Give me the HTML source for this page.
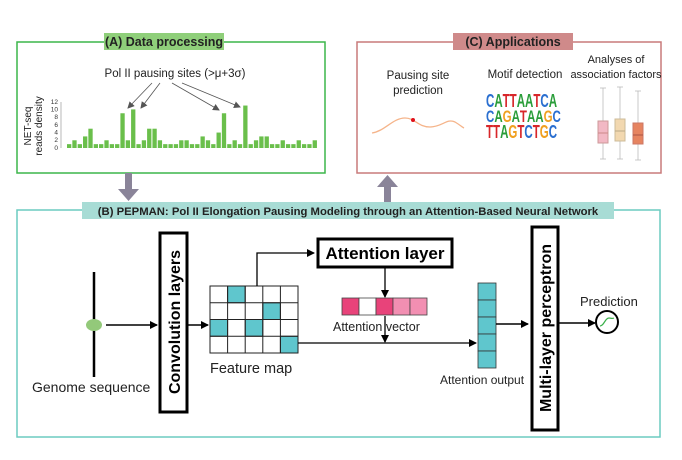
<!DOCTYPE html>
<html><head><meta charset="utf-8"><style>
html,body{margin:0;padding:0;background:#fff;}
svg{display:block;font-family:"Liberation Sans",Arial,sans-serif;}
</style></head><body>
<svg id="s" width="682" height="460" viewBox="0 0 682 460" xmlns="http://www.w3.org/2000/svg">
<defs>
<marker id="ah" markerWidth="8" markerHeight="8" refX="7" refY="4" orient="auto" markerUnits="userSpaceOnUse"><path d="M0,0 L8,4 L0,8 z" fill="#000"/></marker>
<marker id="ag" markerWidth="7" markerHeight="7" refX="6" refY="3.5" orient="auto" markerUnits="userSpaceOnUse"><path d="M0,0 L7,3.5 L0,7 z" fill="#555"/></marker>
</defs>
<!-- Panel A -->
<rect x="17" y="42" width="308" height="131" fill="none" stroke="#3cb54a" stroke-width="1.5"/>
<rect x="104" y="33" width="120" height="17" fill="#8fcf7a"/>
<text x="164" y="46" font-size="12.5" font-weight="bold" text-anchor="middle" fill="#222">(A) Data processing</text>
<text x="175" y="77" font-size="11.5" text-anchor="middle" fill="#222">Pol II pausing sites (&gt;μ+3σ)</text>
<g stroke="#555" stroke-width="0.8" marker-end="url(#ag)">
<line x1="152" y1="83" x2="128" y2="108"/>
<line x1="160" y1="83" x2="141" y2="108"/>
<line x1="172" y1="83" x2="219" y2="110"/>
<line x1="182" y1="83" x2="240" y2="107"/>
</g>
<g font-size="6.5" fill="#333" text-anchor="end">
<text x="58" y="150">0</text><text x="58" y="142">2</text><text x="58" y="134.5">4</text><text x="58" y="127">6</text><text x="58" y="119">8</text><text x="58" y="111.5">10</text><text x="58" y="104">12</text>
</g>
<g stroke="#888" stroke-width="0.6"><line x1="61" y1="148" x2="61" y2="102"/></g>
<text transform="translate(31,126) rotate(-90)" font-size="10" text-anchor="middle" fill="#222">NET-seq</text>
<text transform="translate(42,126) rotate(-90)" font-size="10" text-anchor="middle" fill="#222">reads density</text>
<g id="bars" fill="#6abf4b"></g>
<!-- Panel C -->
<rect x="357" y="42" width="304" height="131" fill="none" stroke="#c97a7a" stroke-width="1.5"/>
<rect x="453" y="33" width="120" height="17" fill="#cf8a8a"/>
<text x="513" y="46" font-size="12.5" font-weight="bold" text-anchor="middle" fill="#222">(C) Applications</text>
<text x="418" y="79" font-size="11.5" text-anchor="middle" fill="#222">Pausing site</text>
<text x="418" y="94" font-size="11.5" text-anchor="middle" fill="#222">prediction</text>
<path d="M372,133 C385,131 393,118 405,118 C415,118 418,127 430,127 C442,127 447,118 455,122 C460,125 462,127 464,128" fill="none" stroke="#f5b48a" stroke-width="1.3"/>
<circle cx="413" cy="120" r="2" fill="#e0101a"/>
<text x="525" y="78" font-size="11.5" text-anchor="middle" fill="#222">Motif detection</text>
<text x="616" y="63" font-size="11" text-anchor="middle" fill="#222">Analyses of</text>
<text x="616" y="78" font-size="11" text-anchor="middle" fill="#222">association factors</text>
<g font-weight="bold" font-size="16" font-family="Liberation Sans,sans-serif">
<text transform="translate(486,107) scale(0.72,1.15)"><tspan fill="#2a6fd0">C</tspan><tspan fill="#2a9d3a">A</tspan><tspan fill="#d8262a">TT</tspan><tspan fill="#2a9d3a">AA</tspan><tspan fill="#d8262a">T</tspan><tspan fill="#2a6fd0">C</tspan><tspan fill="#2a9d3a">A</tspan></text>
<text transform="translate(486,122) scale(0.72,1.05)"><tspan fill="#2a6fd0">C</tspan><tspan fill="#2a9d3a">A</tspan><tspan fill="#f0a020">G</tspan><tspan fill="#2a9d3a">A</tspan><tspan fill="#d8262a">T</tspan><tspan fill="#2a9d3a">AA</tspan><tspan fill="#f0a020">G</tspan><tspan fill="#2a6fd0">C</tspan></text>
<text transform="translate(486,138) scale(0.72,1.15)"><tspan fill="#d8262a">TT</tspan><tspan fill="#2a9d3a">A</tspan><tspan fill="#f0a020">G</tspan><tspan fill="#d8262a">T</tspan><tspan fill="#2a6fd0">C</tspan><tspan fill="#d8262a">T</tspan><tspan fill="#f0a020">G</tspan><tspan fill="#2a6fd0">C</tspan></text>
</g>
<g stroke="#bbb" stroke-width="0.8">
<line x1="603" y1="88" x2="603" y2="159"/><line x1="600" y1="88" x2="606" y2="88"/><line x1="600" y1="159" x2="606" y2="159"/>
<line x1="620" y1="87" x2="620" y2="159"/><line x1="617" y1="87" x2="623" y2="87"/><line x1="617" y1="159" x2="623" y2="159"/>
<line x1="638" y1="91" x2="638" y2="160"/><line x1="635" y1="91" x2="641" y2="91"/><line x1="635" y1="160" x2="641" y2="160"/>
</g>
<rect x="598" y="121" width="10" height="22" fill="#f2b8c4" stroke="#c99"/><line x1="598" y1="133" x2="608" y2="133" stroke="#c88"/>
<rect x="615" y="119" width="10" height="22" fill="#f2d8b0" stroke="#cb9"/><line x1="615" y1="131" x2="625" y2="131" stroke="#ba8"/>
<rect x="633" y="123" width="10" height="21" fill="#e68460" stroke="#c76"/><line x1="633" y1="135" x2="643" y2="135" stroke="#a54"/>
<!-- big arrows -->
<rect x="125" y="173" width="7" height="16" fill="#8a8499"/><path d="M118,189 L139,189 L128.5,201 z" fill="#8a8499"/>
<rect x="384" y="186" width="7" height="19" fill="#8a8499"/><path d="M377,187 L398,187 L387.5,175 z" fill="#8a8499"/>
<!-- Panel B -->
<rect x="17" y="210" width="643" height="227" fill="none" stroke="#6ccbc0" stroke-width="1.5"/>
<rect x="82" y="202" width="532" height="17" fill="#a8dcd5"/>
<text x="348" y="215" font-size="11.3" font-weight="bold" text-anchor="middle" fill="#222">(B) PEPMAN: Pol II Elongation Pausing Modeling through an Attention-Based Neural Network</text>
<line x1="94" y1="272" x2="94" y2="377" stroke="#000" stroke-width="2.5"/>
<ellipse cx="94" cy="325" rx="8" ry="6" fill="#93c97a"/>
<line x1="106" y1="325" x2="157" y2="325" stroke="#000" stroke-width="1.5" marker-end="url(#ah)"/>
<text x="32" y="392" font-size="14" fill="#222">Genome sequence</text>
<rect x="160" y="233" width="27" height="179" fill="#fff" stroke="#000" stroke-width="3"/>
<text transform="translate(180,322) rotate(-90)" font-size="16" font-weight="bold" text-anchor="middle">Convolution layers</text>
<line x1="188" y1="325" x2="208" y2="325" stroke="#000" stroke-width="1.5" marker-end="url(#ah)"/>
<g stroke="#222" stroke-width="1">
<rect x="227.6" y="286" width="17.6" height="16.75" fill="#5fc6cd"/>
<rect x="262.8" y="302.75" width="17.6" height="16.75" fill="#5fc6cd"/>
<rect x="210" y="319.5" width="17.6" height="16.75" fill="#5fc6cd"/>
<rect x="245.2" y="319.5" width="17.6" height="16.75" fill="#5fc6cd"/>
<rect x="280.4" y="336.25" width="17.6" height="16.75" fill="#5fc6cd"/>
<rect x="210" y="286" width="88" height="67" fill="none"/>
<path d="M227.6,286V353M245.2,286V353M262.8,286V353M280.4,286V353M210,302.75H298M210,319.5H298M210,336.25H298" fill="none"/>
</g>
<text x="210" y="373" font-size="14.5" fill="#222">Feature map</text>
<polyline points="257,286 257,253 314,253" fill="none" stroke="#000" stroke-width="1.3" marker-end="url(#ah)"/>
<rect x="318" y="239" width="134" height="28" fill="#fff" stroke="#000" stroke-width="3"/>
<text x="385" y="259" font-size="17" font-weight="bold" text-anchor="middle">Attention layer</text>
<line x1="385" y1="268" x2="385" y2="297" stroke="#000" stroke-width="1.3" marker-end="url(#ah)"/>
<g stroke="#444" stroke-width="0.8">
<rect x="342" y="298" width="17" height="17" fill="#e8437a"/>
<rect x="359" y="298" width="17" height="17" fill="#fff"/>
<rect x="376" y="298" width="17" height="17" fill="#e8437a"/>
<rect x="393" y="298" width="17" height="17" fill="#f28fb2"/>
<rect x="410" y="298" width="17" height="17" fill="#f28fb2"/>
</g>
<text x="333" y="331" font-size="12.5" fill="#222">Attention vector</text>
<line x1="385" y1="316" x2="385" y2="342" stroke="#000" stroke-width="1.3" marker-end="url(#ah)"/>
<line x1="298" y1="343" x2="476" y2="343" stroke="#000" stroke-width="1.3" marker-end="url(#ah)"/>
<g stroke="#333" stroke-width="0.8" fill="#5fc6cd">
<rect x="478" y="283" width="18" height="17"/><rect x="478" y="300" width="18" height="17"/><rect x="478" y="317" width="18" height="17"/><rect x="478" y="334" width="18" height="17"/><rect x="478" y="351" width="18" height="17"/>
</g>
<text x="440" y="384" font-size="12" fill="#222">Attention output</text>
<line x1="496" y1="324" x2="528" y2="324" stroke="#000" stroke-width="1.5" marker-end="url(#ah)"/>
<rect x="532" y="227" width="26" height="203" fill="#fff" stroke="#000" stroke-width="3"/>
<text transform="translate(551,328) rotate(-90)" font-size="16" font-weight="bold" text-anchor="middle">Multi-layer perceptron</text>
<line x1="559" y1="323" x2="595" y2="323" stroke="#000" stroke-width="1.5" marker-end="url(#ah)"/>
<circle cx="607" cy="322" r="11" fill="#fff" stroke="#000" stroke-width="2"/>
<path d="M600,326 C604,326 605,318 609,318 C611,318 612,319 614,318" fill="none" stroke="#3ab04a" stroke-width="1.2"/>
<text x="580" y="306" font-size="13" fill="#222">Prediction</text>
</svg>
<script>
var h=[1,2,1,3,5,1,1,2,1,1,9,2,10,1,2,5,5,2,1,1,1,2,2,1,1,3,2,1,4,9,1,2,1,11,1,2,3,3,1,1,2,1,1,2,1,1,2];
var g=document.getElementById('bars'),s='';
for(var i=0;i<h.length;i++){var x=67+i*5.34,hh=h[i]*3.86;s+='<rect x="'+x.toFixed(2)+'" y="'+(148-hh).toFixed(2)+'" width="4.3" height="'+hh.toFixed(2)+'"/>';}
g.innerHTML=s;
</script>
</body></html>
